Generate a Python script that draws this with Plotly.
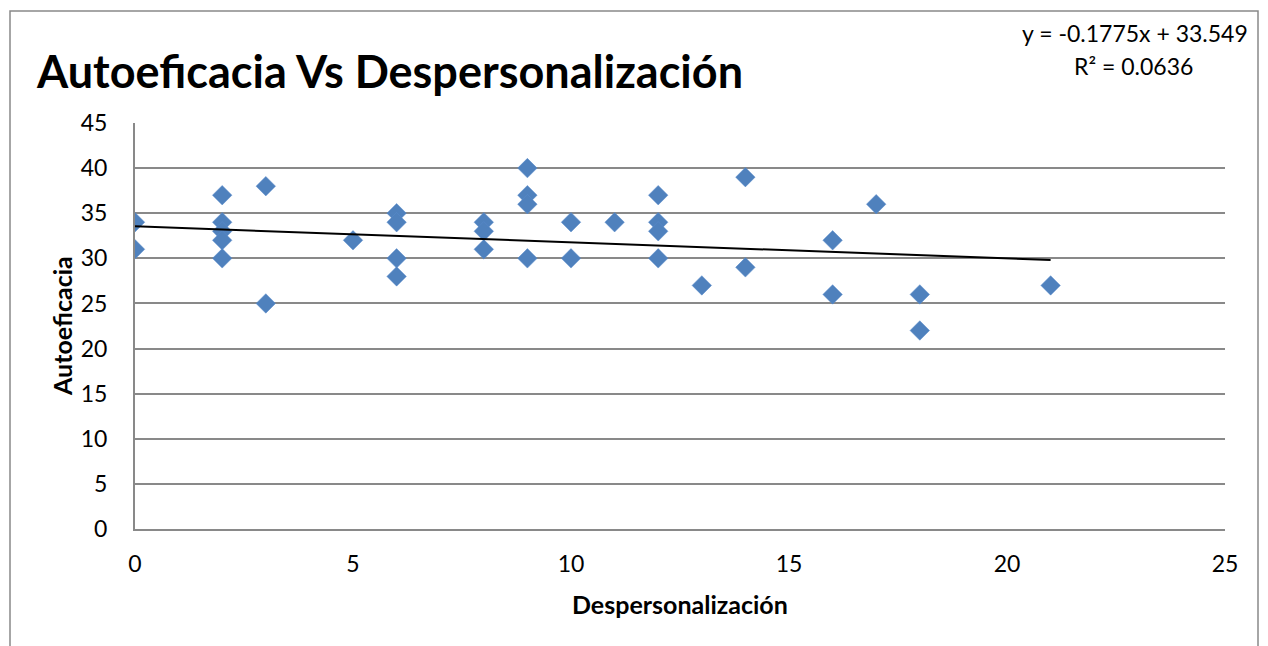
import plotly.graph_objects as go

# Data
despersonalizacion = [0, 0, 2, 2, 2, 2, 2, 3, 3, 5, 6, 6, 6, 6, 8, 8, 8, 9, 9, 9, 9,
                      10, 10, 11, 12, 12, 12, 12, 13, 14, 14, 16, 16, 17, 18, 18, 21]
autoeficacia = [34, 31, 37, 34, 33, 32, 30, 38, 25, 32, 35, 34, 30, 28, 34, 33, 31, 40, 37, 36, 30,
                34, 30, 34, 37, 34, 33, 30, 27, 39, 29, 32, 26, 36, 26, 22, 27]
slope = -0.1775
intercept = 33.549
r2 = 0.0636
x_ticks = [0, 5, 10, 15, 20, 25]
y_ticks = [0, 5, 10, 15, 20, 25, 30, 35, 40, 45]

OFF = 8  # page body margin
W, H = 1268 - OFF, 646 - OFF
L, R, T, B = 135, 1225, 123, 529  # target pixel positions in the page

def px_x(p):
    return (p - L) / (R - L)

def px_y(p):
    return (B - p) / (B - T)

x_min, x_max = min(despersonalizacion), max(despersonalizacion)
trend_x = [x_min, x_max]
trend_y = [slope * v + intercept for v in trend_x]

FONT = "Lato, Open Sans, sans-serif"
GRID = "#898989"

fig = go.Figure()
fig.add_trace(go.Scatter(
    x=despersonalizacion, y=autoeficacia, mode="markers",
    marker=dict(symbol="diamond", size=15, color="#4F81BD",
                line=dict(width=0.5, color="#5b8ccc")),
    showlegend=False, hoverinfo="x+y"))
fig.add_trace(go.Scatter(
    x=trend_x, y=trend_y, mode="lines",
    line=dict(color="black", width=2), showlegend=False, hoverinfo="skip"))

fig.update_layout(
    width=W, height=H,
    margin=dict(l=L - OFF, r=W - (R - OFF), t=T - OFF, b=H - (B - OFF), pad=0),
    paper_bgcolor="white", plot_bgcolor="white",
    font=dict(family=FONT, color="black"),
    xaxis=dict(range=[0, 25], tickvals=x_ticks, showgrid=False, zeroline=False,
               showline=True, linecolor=GRID, linewidth=2, ticks="",
               ticklabelstandoff=13,
               tickfont=dict(family=FONT, size=23, color="black")),
    yaxis=dict(range=[0, 45], tickvals=y_ticks, showgrid=True, gridcolor=GRID,
               gridwidth=2, zeroline=False, showline=True, linecolor=GRID,
               linewidth=2, ticks="", ticklabelstandoff=21,
               tickfont=dict(family=FONT, size=23, color="black")),
    annotations=[
        dict(text="<b>Autoeficacia Vs Despersonalización</b>", xref="paper", yref="paper",
             x=px_x(34), y=px_y(71), xanchor="left", yanchor="middle", showarrow=False,
             font=dict(family=FONT, size=45, color="black")),
        dict(text="<b>Despersonalización</b>", xref="paper", yref="paper",
             x=px_x(680), y=px_y(604), xanchor="center", yanchor="middle", showarrow=False,
             font=dict(family=FONT, size=25, color="black")),
        dict(text="<b>Autoeficacia</b>", xref="paper", yref="paper", textangle=-90,
             x=px_x(62), y=px_y(326), xanchor="center", yanchor="middle", showarrow=False,
             font=dict(family=FONT, size=25, color="black")),
        dict(text=f"y = {slope}x + {intercept}", xref="paper", yref="paper",
             x=px_x(1135), y=px_y(33), xanchor="center", yanchor="middle", showarrow=False,
             font=dict(family=FONT, size=23, color="black")),
        dict(text=f"R² = {r2}", xref="paper", yref="paper",
             x=px_x(1133), y=px_y(66), xanchor="center", yanchor="middle", showarrow=False,
             font=dict(family=FONT, size=23, color="black")),
    ],
    shapes=[dict(type="rect", xref="paper", yref="paper",
                 x0=px_x(10), x1=px_x(1258), y0=px_y(700), y1=px_y(11),
                 line=dict(color=GRID, width=1.5), fillcolor="rgba(0,0,0,0)", layer="below")],
)

fig.write_html("out.html")
